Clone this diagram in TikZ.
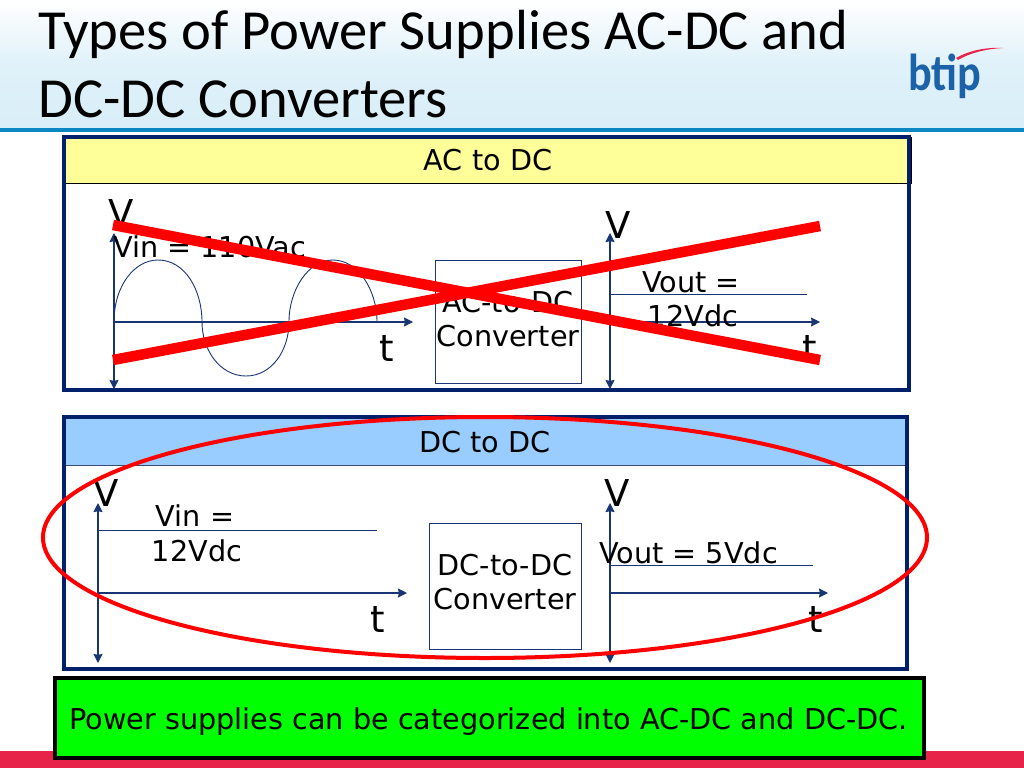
\documentclass[tikz,border=0pt]{standalone}
\usepackage{fontspec}
\setmainfont{DejaVu Sans}
\newfontfamily\titlefont{Carlito}
\newfontfamily\logofont{Carlito}[BoldFont={Carlito Bold}]
\usetikzlibrary{arrows.meta,shapes.geometric}
\definecolor{navy}{HTML}{00206B}
\definecolor{axisblue}{HTML}{1A3575}
\definecolor{headyellow}{HTML}{FFFF99}
\definecolor{headblue}{HTML}{99CCFF}
\definecolor{barblue}{HTML}{0A86C2}
\definecolor{barred}{HTML}{E8234A}
\definecolor{skyend}{HTML}{D8EEF8}
\definecolor{logoblue}{HTML}{1C62A8}
\tikzset{
  box/.style={inner sep=0pt,outer sep=0pt,anchor=center},
  panel/.style={box,draw=navy,line width=4pt},
  header/.style={box,line width=1pt},
  conv/.style={box,draw=axisblue,line width=.9pt,fill=white},
  axis/.style={draw=axisblue,line width=1.3pt},
  arrowend/.style={-{Stealth[length=9pt,width=9pt,inset=.8pt]}},
  biarrow/.style={{Stealth[length=9pt,width=9pt,inset=.8pt]}-{Stealth[length=9pt,width=9pt,inset=.8pt]}},
  thinline/.style={draw=axisblue,line width=.9pt},
  label/.style={inner sep=0pt,anchor=base,font=\fontsize{28.7}{32}\selectfont},
  big/.style={inner sep=0pt,anchor=base,font=\fontsize{37}{40}\selectfont},
  titletext/.style={inner sep=0pt,anchor=base west,font=\titlefont\fontsize{56.6}{60}\selectfont},
  cross/.style={draw=red,line width=10.5pt},
}
\begin{document}
\begin{tikzpicture}[x=1pt,y=-1pt]
\useasboundingbox (0,0) rectangle (1024,768);
\fill[white] (0,0) rectangle (1024,768);
\shade[top color=white,bottom color=skyend,middle color=skyend!80!white] (0,0) rectangle (1024,128);
\fill[barblue] (0,127.5) rectangle (1024,132);
\fill[barred] (0,751) rectangle (1024,768);

\node[titletext] (title1) at (38,49) {Types of Power Supplies AC-DC and};
\node[titletext] (title2) at (38,117) {DC-DC Converters};
\node[inner sep=0pt,anchor=base west,text=logoblue,xscale=.85,font=\logofont\bfseries\fontsize{52}{54}\selectfont] (logo) at (908,90) {btip};
\fill[barred] (956,58) .. controls (968,51) and (985,47) .. (1003,48) .. controls (985,49) and (970,53) .. (958,60) -- cycle;

% AC to DC panel
\node[header,draw=black,fill=headyellow,minimum width=847pt,minimum height=46pt] (acHead) at (487.5,160) {};
\node[panel,minimum width=845pt,minimum height=252.5pt] (acPanel) at (486,263.25) {};
\node[label] (acHeadText) at (488,170) {AC to DC};

\coordinate (a1t) at (114,233); \coordinate (a1b) at (114,389);
\coordinate (a1o) at (114,322); \coordinate (a1e) at (413,322);
\coordinate (a2t) at (610,233); \coordinate (a2b) at (610,389);
\coordinate (a2o) at (610,322); \coordinate (a2e) at (820,322);
\coordinate (a2ls) at (610,294); \coordinate (a2le) at (807,294);
\draw[axis,biarrow] (a1t) -- (a1b);
\draw[axis,arrowend] (a1o) -- (a1e);
\draw[axis,biarrow] (a2t) -- (a2b);
\draw[axis,arrowend] (a2o) -- (a2e);
\draw[thinline] (a2ls) -- (a2le);
\draw[thinline] (114,322) .. controls (114,285) and (135,260) .. (158,260)
  .. controls (185,260) and (202,290) .. (202,322)
  .. controls (202,350) and (220,376) .. (246,376)
  .. controls (272,376) and (289,350) .. (289,322)
  .. controls (289,290) and (308,260) .. (333,260)
  .. controls (358,260) and (377,290) .. (377,322);
\node[conv,minimum width=146pt,minimum height=123pt] (acConv) at (508,321.5) {};
\node[big] (acV1) at (121,226) {V};
\node[label,anchor=base west] (acVin) at (113,257) {Vin = 110Vac};
\node[big] (acT1) at (387,361) {t};
\node[label] (acConvA) at (508,312) {AC-to-DC};
\node[label] (acConvB) at (508,346) {Converter};
\node[big] (acV2) at (618,238) {V};
\node[label] (acVoutA) at (691,292) {Vout =};
\node[label] (acVoutB) at (693,326) {12Vdc};
\node[big] (acT2) at (810,361) {t};
\coordinate (x1a) at (113,225); \coordinate (x1b) at (820,360);
\coordinate (x2a) at (113,360); \coordinate (x2b) at (820,226);
\draw[cross] (x1a) -- (x1b);
\draw[cross] (x2a) -- (x2b);

% DC to DC panel
\node[header,draw=axisblue!70!gray,fill=headblue,minimum width=843pt,minimum height=47pt] (dcHead) at (485,442) {};
\node[panel,minimum width=843pt,minimum height=252pt] (dcPanel) at (485,543) {};
\node[label] (dcHeadText) at (485,452) {DC to DC};

\coordinate (d1t) at (98,503); \coordinate (d1b) at (98,663);
\coordinate (d1o) at (98,593); \coordinate (d1e) at (407,593);
\coordinate (d1ls) at (98,530); \coordinate (d1le) at (377,530);
\coordinate (d2t) at (610,503); \coordinate (d2b) at (610,663);
\coordinate (d2o) at (610,593); \coordinate (d2e) at (828,593);
\coordinate (d2ls) at (610,565); \coordinate (d2le) at (813,565);
\draw[axis,biarrow] (d1t) -- (d1b);
\draw[axis,arrowend] (d1o) -- (d1e);
\draw[thinline] (d1ls) -- (d1le);
\draw[axis,biarrow] (d2t) -- (d2b);
\draw[axis,arrowend] (d2o) -- (d2e);
\draw[thinline] (d2ls) -- (d2le);
\node[conv,minimum width=152pt,minimum height=126pt] (dcConv) at (505,586) {};
\node[big] (dcV1) at (106,506) {V};
\node[label] (dcVinA) at (195,526) {Vin =};
\node[label] (dcVinB) at (197,561) {12Vdc};
\node[big] (dcT1) at (378,632) {t};
\node[label] (dcConvA) at (505,575) {DC-to-DC};
\node[label] (dcConvB) at (505,609) {Converter};
\node[big] (dcV2) at (617,506) {V};
\node[label,anchor=base west] (dcVout) at (599,563) {Vout = 5Vdc};
\node[big] (dcT2) at (816,632) {t};
\node[ellipse,draw=red,line width=4pt,inner sep=0pt,minimum width=884pt,minimum height=241pt] (ring) at (485,537.5) {};

% Summary
\node[box,draw=black,fill=green,line width=4pt,minimum width=869pt,minimum height=80pt] (summary) at (489.5,718) {};
\node[label] (summaryText) at (488.5,729) {Power supplies can be categorized into AC-DC and DC-DC.};
\end{tikzpicture}
\end{document}
